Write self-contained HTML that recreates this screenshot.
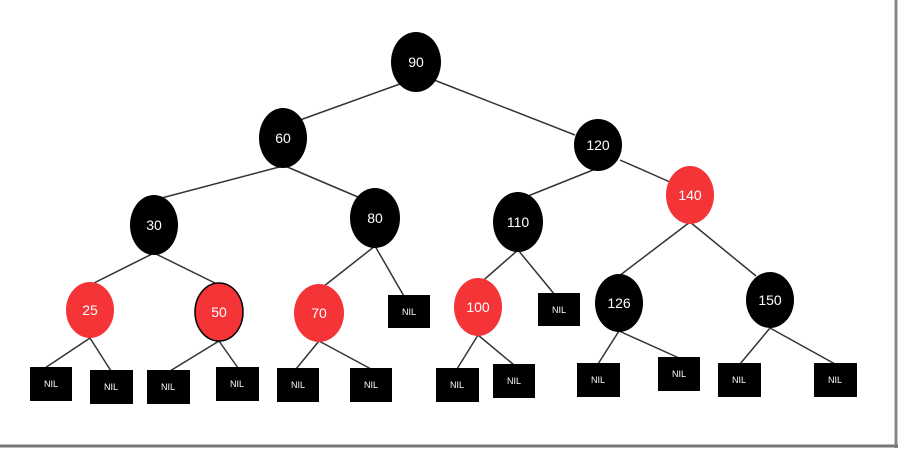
<!DOCTYPE html>
<html><head><style>
html,body{margin:0;padding:0;background:#fff;}
svg{display:block;}
text{font-family:"Liberation Sans",sans-serif;fill:#fff;text-anchor:middle;dominant-baseline:central;}
</style></head><body>
<svg width="900" height="451" viewBox="0 0 900 451">
<rect x="0" y="0" width="900" height="451" fill="#fff"/>
<line x1="896" y1="0" x2="896" y2="448" stroke="#888" stroke-width="3"/>
<line x1="0" y1="446" x2="898" y2="446" stroke="#777" stroke-width="3"/>
<g stroke="#333" stroke-width="1.5">
<line x1="400" y1="84" x2="300" y2="120"/>
<line x1="434" y1="80" x2="575" y2="135"/>
<line x1="283" y1="166" x2="154" y2="200"/>
<line x1="285" y1="166" x2="365" y2="200"/>
<line x1="598" y1="168" x2="518" y2="200"/>
<line x1="620" y1="160" x2="670" y2="182"/>
<line x1="154" y1="253" x2="90" y2="285"/>
<line x1="154" y1="253" x2="219" y2="285"/>
<line x1="375" y1="246" x2="319" y2="290"/>
<line x1="375" y1="246" x2="405" y2="298"/>
<line x1="518" y1="250" x2="478" y2="285"/>
<line x1="518" y1="250" x2="555" y2="295"/>
<line x1="690" y1="222" x2="619" y2="276"/>
<line x1="690" y1="222" x2="756" y2="276"/>
<line x1="90" y1="338" x2="45" y2="368"/>
<line x1="90" y1="338" x2="111" y2="371"/>
<line x1="219" y1="341" x2="170" y2="371"/>
<line x1="219" y1="341" x2="238" y2="368"/>
<line x1="319" y1="341" x2="296" y2="369"/>
<line x1="319" y1="341" x2="371" y2="369"/>
<line x1="478" y1="335" x2="457" y2="369"/>
<line x1="478" y1="335" x2="514" y2="365"/>
<line x1="619" y1="331" x2="598" y2="364"/>
<line x1="619" y1="331" x2="679" y2="358"/>
<line x1="770" y1="328" x2="740" y2="364"/>
<line x1="770" y1="328" x2="835" y2="364"/>
</g>
<g>
<ellipse cx="416" cy="62" rx="25" ry="30" fill="#000"/><text x="416" y="62" font-size="14">90</text>
<ellipse cx="283" cy="138" rx="24" ry="30" fill="#000"/><text x="283" y="138" font-size="14">60</text>
<ellipse cx="598" cy="145" rx="24" ry="26" fill="#000"/><text x="598" y="145" font-size="14">120</text>
<ellipse cx="154" cy="225" rx="24" ry="30" fill="#000"/><text x="154" y="225" font-size="14">30</text>
<ellipse cx="375" cy="218" rx="25" ry="30" fill="#000"/><text x="375" y="218" font-size="14">80</text>
<ellipse cx="518" cy="222" rx="25" ry="30" fill="#000"/><text x="518" y="222" font-size="14">110</text>
<ellipse cx="690" cy="195" rx="24" ry="29" fill="#f53438"/><text x="690" y="195" font-size="14">140</text>
<ellipse cx="90" cy="310" rx="24" ry="28" fill="#f53438"/><text x="90" y="310" font-size="14">25</text>
<ellipse cx="219" cy="312" rx="24" ry="29" fill="#f53438" stroke="#000" stroke-width="1.5"/><text x="219" y="312" font-size="14">50</text>
<ellipse cx="319" cy="313" rx="25" ry="29" fill="#f53438"/><text x="319" y="313" font-size="14">70</text>
<ellipse cx="478" cy="307" rx="24" ry="29" fill="#f53438"/><text x="478" y="307" font-size="14">100</text>
<ellipse cx="619" cy="303" rx="24" ry="29" fill="#000"/><text x="619" y="303" font-size="14">126</text>
<ellipse cx="770" cy="300" rx="24" ry="28" fill="#000"/><text x="770" y="300" font-size="14">150</text>
</g>
<g font-size="9">
<rect x="388" y="295" width="42" height="33" fill="#000"/><text x="409" y="312" font-size="9">NIL</text>
<rect x="538" y="293" width="42" height="33" fill="#000"/><text x="559" y="310" font-size="9">NIL</text>
<rect x="30" y="367" width="42" height="34" fill="#000"/><text x="51" y="384" font-size="9">NIL</text>
<rect x="90" y="370" width="43" height="34" fill="#000"/><text x="111" y="387" font-size="9">NIL</text>
<rect x="147" y="370" width="43" height="34" fill="#000"/><text x="168" y="387" font-size="9">NIL</text>
<rect x="216" y="367" width="43" height="34" fill="#000"/><text x="237" y="384" font-size="9">NIL</text>
<rect x="277" y="368" width="42" height="34" fill="#000"/><text x="298" y="385" font-size="9">NIL</text>
<rect x="350" y="368" width="42" height="34" fill="#000"/><text x="371" y="385" font-size="9">NIL</text>
<rect x="436" y="368" width="43" height="34" fill="#000"/><text x="457" y="385" font-size="9">NIL</text>
<rect x="493" y="364" width="42" height="34" fill="#000"/><text x="514" y="381" font-size="9">NIL</text>
<rect x="577" y="363" width="43" height="34" fill="#000"/><text x="598" y="380" font-size="9">NIL</text>
<rect x="658" y="357" width="42" height="34" fill="#000"/><text x="679" y="374" font-size="9">NIL</text>
<rect x="718" y="363" width="43" height="34" fill="#000"/><text x="739" y="380" font-size="9">NIL</text>
<rect x="814" y="363" width="43" height="34" fill="#000"/><text x="835" y="380" font-size="9">NIL</text>
</g>
</svg>
</body></html>
